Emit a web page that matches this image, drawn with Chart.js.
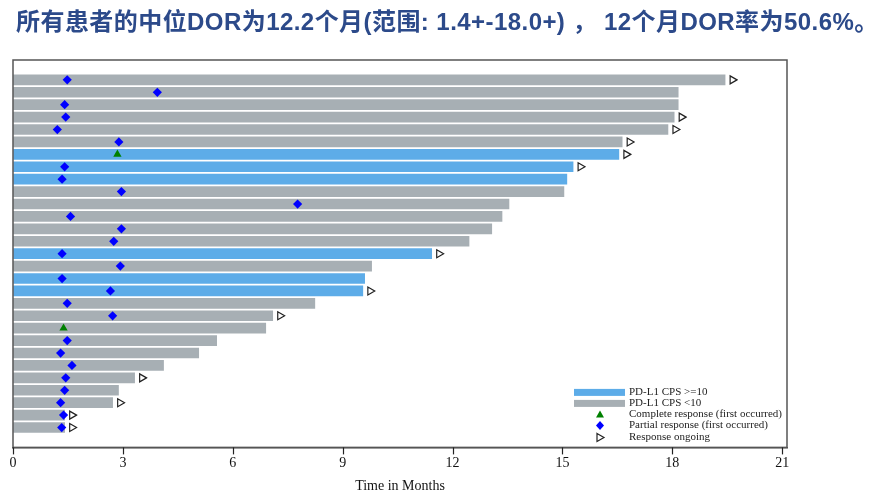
<!DOCTYPE html>
<html>
<head>
<meta charset="utf-8">
<script src="https://cdn.jsdelivr.net/npm/chart.js@4.4.1/dist/chart.umd.min.js"></script>
<style>
  html, body { margin: 0; padding: 0; background: #fff; }
  #wrap { width: 889px; height: 503px; }
</style>
</head>
<body>
<div id="wrap"><canvas id="swimmer"></canvas></div>
<script>
// Datos (una fila por paciente, de arriba a abajo)
var barEnd = [19.44, 18.16, 18.16, 18.05, 17.88, 16.63, 16.54, 15.29, 15.12, 15.04,
              13.54, 13.35, 13.07, 12.45, 11.43, 9.79, 9.60, 9.55, 8.24, 7.09,
              6.90, 5.56, 5.07, 4.11, 3.32, 2.88, 2.72, 1.41, 1.41];
// true = PD-L1 CPS >=10
var highCps = [false, false, false, false, false, false, true, true, true, false,
               false, false, false, false, true, false, true, true, false, false,
               false, false, false, false, false, false, false, false, false];
var respTime = [1.48, 3.94, 1.41, 1.44, 1.21, 2.89, 2.85, 1.41, 1.34, 2.96,
                7.77, 1.57, 2.96, 2.75, 1.34, 2.93, 1.34, 2.66, 1.48, 2.72,
                1.38, 1.48, 1.30, 1.61, 1.44, 1.41, 1.30, 1.38, 1.33];
var respType = ['PR', 'PR', 'PR', 'PR', 'PR', 'PR', 'CR', 'PR', 'PR', 'PR',
                'PR', 'PR', 'PR', 'PR', 'PR', 'PR', 'PR', 'PR', 'PR', 'PR',
                'CR', 'PR', 'PR', 'PR', 'PR', 'PR', 'PR', 'PR', 'PR'];
var ongoing = [1, 0, 0, 1, 1, 1, 1, 1, 0, 0,
               0, 0, 0, 0, 1, 0, 0, 1, 0, 1,
               0, 0, 0, 0, 1, 0, 1, 1, 1];
var xTicks = [0, 3, 6, 9, 12, 15, 18, 21];

var titleText = '所有患者的中位DOR为12.2个月(范围: 1.4+-18.0+) ， 12个月DOR率为50.6%。';
var legendLabels = ['PD-L1 CPS >=10', 'PD-L1 CPS <10', 'Complete response (first occurred)',
                    'Partial response (first occurred)', 'Response ongoing'];

var colBlue = '#5dace8';
var colGrey = '#a7afb4';
var serif = '"Liberation Serif", "DejaVu Serif", serif';

// Construir los puntos
var barData = [], prData = [], crData = [], arrowData = [];
for (var i = 0; i < barEnd.length; i++) {
    barData.push({ x: barEnd[i], y: i });
    if (respType[i] === 'CR') crData.push({ x: respTime[i], y: i });
    else prData.push({ x: respTime[i], y: i });
    if (ongoing[i]) arrowData.push({ x: barEnd[i] + 0.2, y: i });
}

// Título arriba (sin maxWidth, para que no se comprima)
var titlePlugin = {
    id: 'bigTitle',
    afterDraw: function(chart) {
        var ctx = chart.ctx;
        ctx.save();
        ctx.font = 'bold 24px "Liberation Sans", "Noto Sans CJK SC", sans-serif';
        ctx.fillStyle = '#2c4a8a';
        ctx.textBaseline = 'middle';
        ctx.textAlign = 'left';
        var w = ctx.measureText(titleText).width;
        var target = 862;
        if (w < target && 'letterSpacing' in ctx) {
            ctx.letterSpacing = ((target - w) / (titleText.length - 1)).toFixed(2) + 'px';
        }
        ctx.fillText(titleText, 16, 23);
        ctx.restore();
    }
};

// Marco del área, marcas del eje y leyenda dentro del gráfico
var framePlugin = {
    id: 'frameAndLegend',
    afterDraw: function(chart) {
        var ctx = chart.ctx, a = chart.chartArea;
        var xs = chart.scales.x;
        ctx.save();
        ctx.strokeStyle = '#555';
        ctx.lineWidth = 1.5;
        ctx.strokeRect(a.left, a.top, a.right - a.left, a.bottom - a.top);

        // marcas de los ticks hacia abajo
        ctx.strokeStyle = '#222';
        ctx.lineWidth = 1.2;
        xTicks.forEach(function(v) {
            var px = Math.round(xs.getPixelForValue(v)) + 0.5;
            ctx.beginPath();
            ctx.moveTo(px, a.bottom);
            ctx.lineTo(px, a.bottom + 7);
            ctx.stroke();
        });

        var rx = a.right - 213, mx = a.right - 187, tx = a.right - 158;
        var rows = [a.bottom - 55, a.bottom - 44, a.bottom - 33, a.bottom - 22, a.bottom - 10];
        ctx.fillStyle = colBlue;
        ctx.fillRect(rx, rows[0] - 3.5, 51, 7);
        ctx.fillStyle = colGrey;
        ctx.fillRect(rx, rows[1] - 3.5, 51, 7);
        ctx.fillStyle = '#008000';
        ctx.beginPath();
        ctx.moveTo(mx, rows[2] - 4); ctx.lineTo(mx + 4, rows[2] + 3); ctx.lineTo(mx - 4, rows[2] + 3);
        ctx.closePath(); ctx.fill();
        ctx.fillStyle = '#0000ff';
        ctx.beginPath();
        ctx.moveTo(mx, rows[3] - 4.5); ctx.lineTo(mx + 4, rows[3]); ctx.lineTo(mx, rows[3] + 4.5); ctx.lineTo(mx - 4, rows[3]);
        ctx.closePath(); ctx.fill();
        ctx.fillStyle = '#fff';
        ctx.strokeStyle = '#222';
        ctx.lineWidth = 1.2;
        ctx.beginPath();
        ctx.moveTo(mx - 3, rows[4] - 4); ctx.lineTo(mx + 4, rows[4]); ctx.lineTo(mx - 3, rows[4] + 4);
        ctx.closePath(); ctx.fill(); ctx.stroke();

        ctx.fillStyle = '#222';
        ctx.font = '11px ' + serif;
        ctx.textBaseline = 'middle';
        ctx.textAlign = 'left';
        for (var k = 0; k < legendLabels.length; k++) ctx.fillText(legendLabels[k], tx, rows[k]);
        ctx.restore();
    }
};

var ctx = document.getElementById('swimmer').getContext('2d');
var chart = new Chart(ctx, {
    type: 'bar',
    data: {
        datasets: [{
            type: 'bar',
            indexAxis: 'y',
            data: barData,
            backgroundColor: highCps.map(function(h) { return h ? colBlue : colGrey; }),
            barThickness: 10,
            order: 3
        }, {
            type: 'scatter',
            data: prData,
            pointStyle: 'rectRot',
            pointRadius: 4.6,
            backgroundColor: '#0000ff',
            borderColor: '#0000ff',
            borderWidth: 0,
            order: 1
        }, {
            type: 'scatter',
            data: crData,
            pointStyle: 'triangle',
            pointRadius: 4.8,
            backgroundColor: '#008000',
            borderColor: '#008000',
            borderWidth: 0,
            order: 1
        }, {
            type: 'scatter',
            data: arrowData,
            pointStyle: 'triangle',
            pointRotation: 90,
            pointRadius: 4.6,
            backgroundColor: '#fff',
            borderColor: '#222',
            borderWidth: 1.2,
            order: 1
        }]
    },
    options: {
        responsive: true,
        maintainAspectRatio: false,
        animation: false,
        layout: { padding: { left: 13, right: 102, top: 60, bottom: 8 } },
        scales: {
            x: {
                type: 'linear',
                min: 0,
                max: 21.13,
                offset: false,
                afterBuildTicks: function(scale) {
                    scale.ticks = xTicks.map(function(v) { return { value: v }; });
                },
                grid: { display: true, offset: false, drawOnChartArea: false, drawTicks: true, tickLength: 6, color: 'rgba(0,0,0,0)' },
                border: { display: true, color: '#555', width: 1.5 },
                ticks: { font: { family: serif, size: 14 }, color: '#111', padding: 2, maxRotation: 0 },
                title: { display: true, text: 'Time in Months', font: { family: serif, size: 14 }, color: '#111', padding: { top: 4, bottom: 0 } }
            },
            y: {
                type: 'linear',
                min: -1.6,
                max: 29.6,
                reverse: true,
                offset: false,
                display: false
            }
        },
        plugins: {
            legend: { display: false },
            tooltip: { enabled: false },
            title: { display: false }
        }
    },
    plugins: [framePlugin, titlePlugin]
});
</script>
</body>
</html>
